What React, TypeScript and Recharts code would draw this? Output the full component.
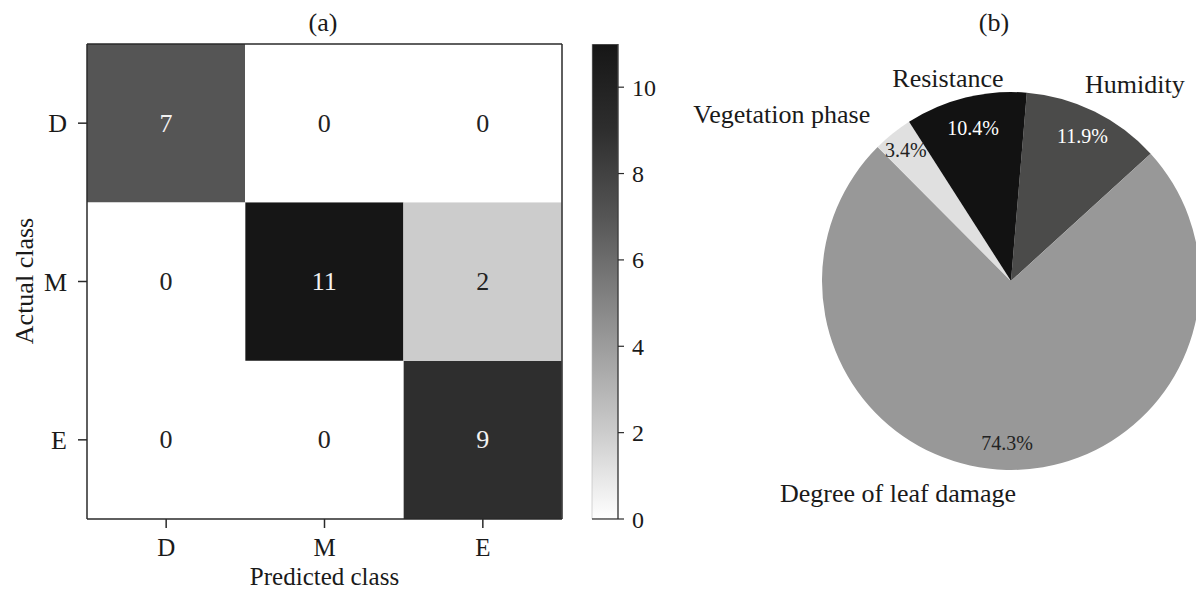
import React from 'react';
import { BarChart, Bar, XAxis, YAxis, Cell, LabelList, PieChart, Pie, Label } from 'recharts';

// ---------- data ----------
const PREDICTED = ['D', 'M', 'E'];
const ACTUAL = ['D', 'M', 'E'];
const ROW_D = [7, 0, 0];
const ROW_M = [0, 11, 2];
const ROW_E = [0, 0, 9];
const COLORBAR_TICKS = [0, 2, 4, 6, 8, 10];
const COLORBAR_MAX = 11;

const PIE_NAMES = ['Humidity', 'Degree of leaf damage', 'Vegetation phase', 'Resistance'];
const PIE_VALUES = [11.9, 74.3, 3.4, 10.4];

// ---------- style ----------
const FONT = '"Liberation Serif", "Times New Roman", serif';
const GREY_STOPS: [number, number][] = [[0, 255], [2, 204], [7, 85], [9, 46], [11, 22]];
const PIE_COLORS = ['#4b4b4a', '#989898', '#e0e0e0', '#121212'];
const PIE_PCT_COLORS = ['#ffffff', '#222222', '#222222', '#ffffff'];
const NAME_OFFSETS: [number, number][] = [[32, -10], [-108, 5], [-99, -4], [-13, -1]];
const PCT_RADII = [162, 162, 168, 158];

function grey(v: number) {
  let g = GREY_STOPS[GREY_STOPS.length - 1][1];
  for (let i = 0; i < GREY_STOPS.length - 1; i++) {
    const [v0, g0] = GREY_STOPS[i];
    const [v1, g1] = GREY_STOPS[i + 1];
    if (v >= v0 && v <= v1) {
      g = g0 + ((v - v0) / (v1 - v0)) * (g1 - g0);
      break;
    }
  }
  const h = Math.round(g).toString(16).padStart(2, '0');
  return `#${h}${h}${h}`;
}

const ROWS = [ROW_D, ROW_M, ROW_E];
const heatData = PREDICTED.map((p, j) => {
  const o: any = { pred: p };
  ROWS.forEach((r, i) => {
    o[`c${i}`] = 1;
    o[`v${i}`] = r[j];
  });
  return o;
});

const colorbarData = [{ k: 'cb', v: COLORBAR_MAX }];
const pieData = PIE_NAMES.map((n, i) => ({ name: n, value: PIE_VALUES[i] }));

const RAD = Math.PI / 180;

const cellLabel = (props: any) => {
  const { x, y, width, height, value } = props;
  return (
    <text
      x={x + width / 2}
      y={y + height / 2}
      textAnchor="middle"
      dominantBaseline="central"
      fontSize={26}
      fontFamily={FONT}
      fill={value > 5 ? '#f2f2f2' : '#222'}
    >
      {value}
    </text>
  );
};

const pieLabel = (props: any) => {
  const { cx, cy, midAngle, index, value, name } = props;
  const cos = Math.cos(-midAngle * RAD);
  const sin = Math.sin(-midAngle * RAD);
  const rn = 208;
  const rp = PCT_RADII[index];
  const nx = cx + rn * cos + NAME_OFFSETS[index][0];
  const ny = cy + rn * sin + NAME_OFFSETS[index][1];
  const px = cx + rp * cos;
  const py = cy + rp * sin;
  return (
    <g>
      <text x={nx} y={ny} textAnchor="middle" dominantBaseline="central" fontSize={26} fontFamily={FONT} fill="#1a1a1a">
        {name}
      </text>
      <text x={px} y={py} textAnchor="middle" dominantBaseline="central" fontSize={20} fontFamily={FONT} fill={PIE_PCT_COLORS[index]}>
        {`${Number(value).toFixed(1)}%`}
      </text>
    </g>
  );
};

const tickStyle = { fill: '#1a1a1a', fontSize: 26, fontFamily: FONT };
const xTickStyle = { fill: '#1a1a1a', fontSize: 25, fontFamily: FONT };
const axisLine = { stroke: '#2a2a2a', strokeWidth: 1.5 };

const gradStops = [...GREY_STOPS].reverse();

export default function App() {
  return (
    <div style={{ position: 'absolute', left: 0, top: 0, width: 1196, height: 591, background: '#fff', fontFamily: FONT, overflow: 'hidden' }}>
      <svg width={10} height={10} style={{ position: 'absolute', left: 0, top: 0 }}>
        <defs>
          <linearGradient id="cbGrad" x1="0" y1="0" x2="0" y2="1">
            {gradStops.map(([v]) => (
              <stop key={v} offset={`${(1 - v / COLORBAR_MAX) * 100}%`} stopColor={grey(v)} />
            ))}
          </linearGradient>
        </defs>
      </svg>

      {/* heatmap */}
      <div style={{ position: 'absolute', left: 0, top: 0 }}>
        <BarChart
          width={600}
          height={591}
          data={heatData}
          margin={{ top: 43, right: 37, bottom: 0, left: 0 }}
          barCategoryGap={0}
          barGap={0}
        >
          <XAxis
            dataKey="pred"
            type="category"
            height={72}
            tickSize={9}
            tickMargin={10}
            tick={xTickStyle}
            axisLine={axisLine}
            tickLine={{ stroke: '#2a2a2a', strokeWidth: 1.5 }}
          >
            <Label value="Predicted class" position="insideBottom" offset={6} fontSize={25} fontFamily={FONT} fill="#1a1a1a" />
          </XAxis>
          <XAxis xAxisId="t" dataKey="pred" orientation="top" height={1} tick={false} tickLine={false} axisLine={axisLine} />
          <YAxis
            type="number"
            domain={[0, 3]}
            ticks={[0.5, 1.5, 2.5]}
            tickFormatter={(v: number) => ACTUAL[2 - Math.floor(v)]}
            width={87}
            tickSize={9}
            tickMargin={11}
            tick={tickStyle}
            axisLine={axisLine}
            tickLine={{ stroke: '#2a2a2a', strokeWidth: 1.5 }}
            allowDataOverflow
          />
          <YAxis yAxisId="r" orientation="right" width={1} tick={false} tickLine={false} axisLine={axisLine} />
          {[2, 1, 0].map((i) => (
            <Bar key={i} dataKey={`c${i}`} stackId="a" isAnimationActive={false}>
              {heatData.map((d, j) => (
                <Cell key={j} fill={grey(d[`v${i}`])} />
              ))}
              <LabelList dataKey={`v${i}`} content={cellLabel} />
            </Bar>
          ))}
        </BarChart>
      </div>

      {/* colorbar */}
      <div style={{ position: 'absolute', left: 560, top: 0 }}>
        <BarChart
          width={140}
          height={591}
          data={colorbarData}
          margin={{ top: 44, right: 0, bottom: 71, left: 32 }}
          barCategoryGap={0}
        >
          <XAxis dataKey="k" height={1} tick={false} tickLine={false} axisLine={{ stroke: '#2a2a2a', strokeWidth: 1.2 }} />
          <YAxis
            orientation="right"
            type="number"
            domain={[0, COLORBAR_MAX]}
            ticks={COLORBAR_TICKS}
            width={82}
            tickSize={6}
            tickMargin={8}
            tick={{ fill: '#1a1a1a', fontSize: 24, fontFamily: FONT }}
            axisLine={{ stroke: '#2a2a2a', strokeWidth: 1.2 }}
            tickLine={{ stroke: '#2a2a2a', strokeWidth: 1.2 }}
            allowDataOverflow
          />
          <Bar dataKey="v" fill="url(#cbGrad)" stroke="#bbbbbb" strokeWidth={0.6} isAnimationActive={false} />
        </BarChart>
      </div>

      {/* pie */}
      <div style={{ position: 'absolute', left: 640, top: 0 }}>
        <PieChart width={556} height={591} margin={{ top: 0, right: 0, bottom: 0, left: 0 }}>
          <Pie
            data={pieData}
            dataKey="value"
            nameKey="name"
            cx={371}
            cy={281}
            outerRadius={189}
            startAngle={85.2}
            endAngle={-274.8}
            stroke="none"
            labelLine={false}
            label={pieLabel}
            isAnimationActive={false}
          >
            {pieData.map((d, i) => (
              <Cell key={i} fill={PIE_COLORS[i]} />
            ))}
          </Pie>
        </PieChart>
      </div>

      {/* titles */}
      <svg width={1196} height={591} style={{ position: 'absolute', left: 0, top: 0, pointerEvents: 'none' }}>
        <text x={323} y={31} textAnchor="middle" fontSize={26} fontFamily={FONT} fill="#1a1a1a">(a)</text>
        <text x={994} y={31} textAnchor="middle" fontSize={26} fontFamily={FONT} fill="#1a1a1a">(b)</text>
        <text x={33} y={281} textAnchor="middle" fontSize={26} fontFamily={FONT} fill="#1a1a1a" transform="rotate(-90 33 281)">
          Actual class
        </text>
      </svg>
    </div>
  );
}
